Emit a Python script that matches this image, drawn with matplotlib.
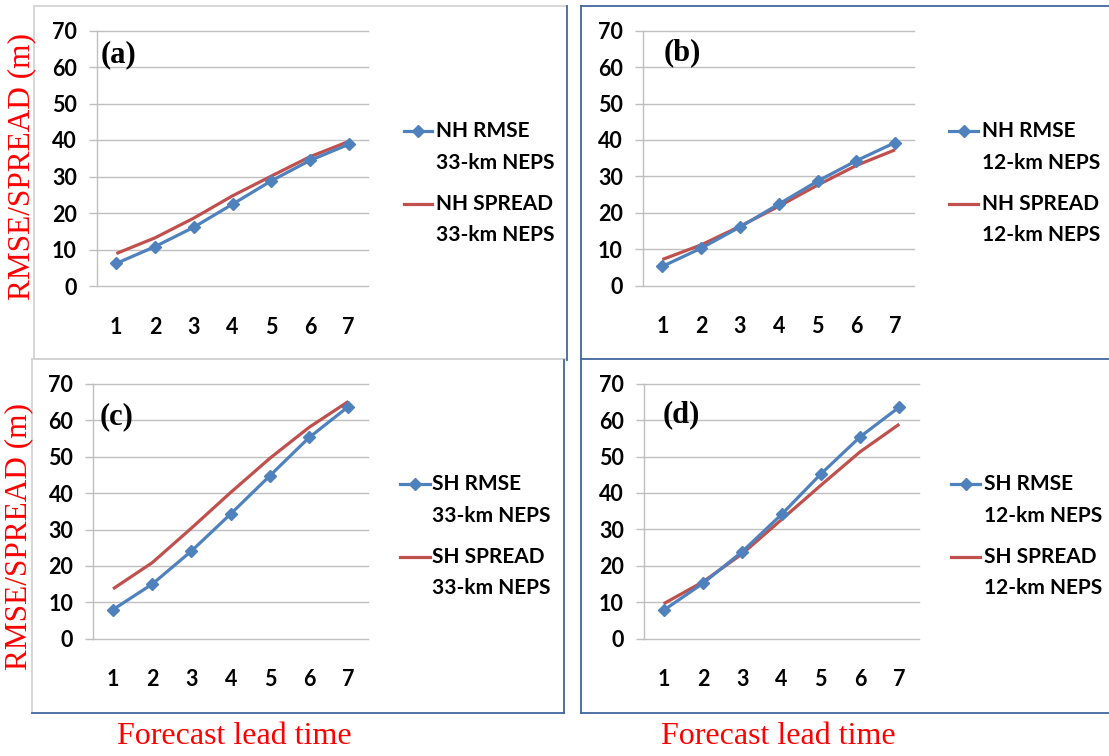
import matplotlib
matplotlib.use("Agg")
import matplotlib.pyplot as plt
from matplotlib.lines import Line2D

lead_days = [1, 2, 3, 4, 5, 6, 7]

nh_rmse_33 = [6.2, 10.8, 16.1, 22.4, 28.8, 34.4, 38.8]
nh_spread_33 = [8.9, 13.2, 18.6, 24.7, 30.1, 35.4, 39.6]
nh_rmse_12 = [5.3, 10.3, 16.1, 22.4, 28.7, 34.3, 39.3]
nh_spread_12 = [7.2, 11.2, 16.3, 21.8, 27.6, 33.0, 37.3]
sh_rmse_33 = [8.0, 15.0, 24.1, 34.3, 44.8, 55.3, 63.8]
sh_spread_33 = [13.7, 20.9, 30.4, 40.2, 49.6, 58.1, 65.2]
sh_rmse_12 = [7.8, 15.2, 23.9, 34.1, 45.2, 55.4, 63.6]
sh_spread_12 = [9.6, 15.6, 23.3, 32.7, 42.1, 51.3, 58.9]

panel_letters = ["(a)", "(b)", "(c)", "(d)"]
rmse_labels = ["NH RMSE", "NH RMSE", "SH RMSE", "SH RMSE"]
spread_labels = ["NH SPREAD", "NH SPREAD", "SH SPREAD", "SH SPREAD"]
model_labels = ["33-km NEPS", "12-km NEPS", "33-km NEPS", "12-km NEPS"]
y_ticks = [0, 10, 20, 30, 40, 50, 60, 70]

plt.rcParams["font.family"] = ["Lato", "DejaVu Sans"]
plt.rcParams["font.weight"] = "bold"

W, H = 1109, 756
fig = plt.figure(figsize=(W / 100, H / 100), dpi=100)

BLUE = "#4f81bd"
RED = "#c0504d"
GRID = "#bfbfbf"
BOXBLUE = "#41679e"
BOXGRAY = "#d3d3d3"


def fx(px):
    return px / W


def fy(py):
    return 1 - py / H


def hline(x0, x1, y, color, lw=1.3):
    fig.add_artist(Line2D([fx(x0), fx(x1)], [fy(y), fy(y)], color=color, lw=lw,
                          transform=fig.transFigure))


def vline(x, y0, y1, color, lw=1.3):
    fig.add_artist(Line2D([fx(x), fx(x)], [fy(y0), fy(y1)], color=color, lw=lw,
                          transform=fig.transFigure))


# panel frames
hline(34, 567, 6, BOXGRAY)
vline(34, 6, 359, BOXGRAY)
hline(34, 567, 359, BOXGRAY)
vline(567, 6, 360, BOXBLUE)
hline(581, W + 2, 6, BOXBLUE)
vline(581, 6, 359, BOXBLUE)
hline(581, W + 2, 359, BOXBLUE)
hline(32, 564, 359, BOXGRAY)
vline(32, 359, 713, BOXGRAY)
vline(564, 360, 713, BOXBLUE)
hline(32, 564, 713, BOXBLUE)
vline(581, 359, 713, BOXBLUE)
hline(581, W + 2, 713, BOXBLUE)

# axes boxes in pixels: left, right, top(70), bottom(0)
rects = [(97, 368, 30.5, 286), (643, 914.5, 30.7, 285.7),
         (93.4, 368, 384, 638.7), (644, 919, 383.7, 638.7)]
series = [(nh_rmse_33, nh_spread_33), (nh_rmse_12, nh_spread_12),
          (sh_rmse_33, sh_spread_33), (sh_rmse_12, sh_spread_12)]
legend_pos = [(404, 432, 436, 131), (949, 978, 982, 131),
              (400, 430, 432, 484), (951, 980, 984, 484)]
letter_pos = [(119, 55), (682, 53), (117, 417), (681, 415)]

for i in range(4):
    x0, x1, yt, yb = rects[i]
    ax = fig.add_axes([fx(x0), fy(yb), (x1 - x0) / W, (yb - yt) / H])
    rmse, spread = series[i]
    ax.plot(lead_days, spread, color=RED, lw=2.3, solid_capstyle="butt", zorder=3)
    ax.plot(lead_days, rmse, color=BLUE, lw=2.3, marker="D", markersize=6.5, zorder=4)
    ax.set_xlim(0.5, 7.5)
    ax.set_ylim(0, 70)
    ax.set_xticks(lead_days)
    ax.set_yticks(y_ticks)
    ax.set_yticklabels([str(v) for v in y_ticks], fontweight="bold")
    ax.set_xticklabels([str(v) for v in lead_days], fontweight="bold")
    for s in ["top", "right", "bottom"]:
        ax.spines[s].set_visible(False)
    ax.spines["left"].set_color(GRID)
    ax.spines["left"].set_linewidth(1.0)
    ax.grid(axis="y", color=GRID, lw=1.0)
    for gl in ax.get_ygridlines():
        gl.set_clip_on(False)
    ax.set_axisbelow(True)
    ax.tick_params(axis="y", length=5.5, width=1.0, color=GRID, pad=9,
                   labelsize=15.5)
    ax.tick_params(axis="x", length=0, pad=22, labelsize=15.5)
    ax.patch.set_alpha(0)

    lx0, lx1, tx, ly = legend_pos[i]
    fig.add_artist(Line2D([fx(lx0), fx(lx1)], [fy(ly), fy(ly)], color=BLUE, lw=2.3,
                          transform=fig.transFigure))
    fig.add_artist(Line2D([fx((lx0 + lx1) / 2)], [fy(ly)], color=BLUE, marker="D",
                          markersize=6.5, transform=fig.transFigure))
    fig.add_artist(Line2D([fx(lx0), fx(lx1)], [fy(ly + 73), fy(ly + 73)], color=RED,
                          lw=2.3, transform=fig.transFigure))
    for dy, txt in [(0, rmse_labels[i]), (32, model_labels[i]),
                    (73, spread_labels[i]), (104, model_labels[i])]:
        fig.text(fx(tx), fy(ly + dy), txt, fontsize=15, ha="left", va="center")

    lx, lyy = letter_pos[i]
    fig.text(fx(lx), fy(lyy), panel_letters[i], fontsize=22, ha="center", va="center",
             family="Liberation Serif", weight="bold")

for (xc, yc) in [(22, 167), (19, 537)]:
    fig.text(fx(xc), fy(yc), "RMSE/SPREAD (m)", rotation=90, color="red",
             fontsize=22.5, family="Liberation Serif", weight="normal",
             ha="center", va="center")
for (xc, yc) in [(234, 736), (778, 736)]:
    fig.text(fx(xc), fy(yc), "Forecast lead time", color="red", fontsize=23,
             family="Liberation Serif", weight="normal", ha="center", va="center")

fig.savefig("out.png", dpi=100)
